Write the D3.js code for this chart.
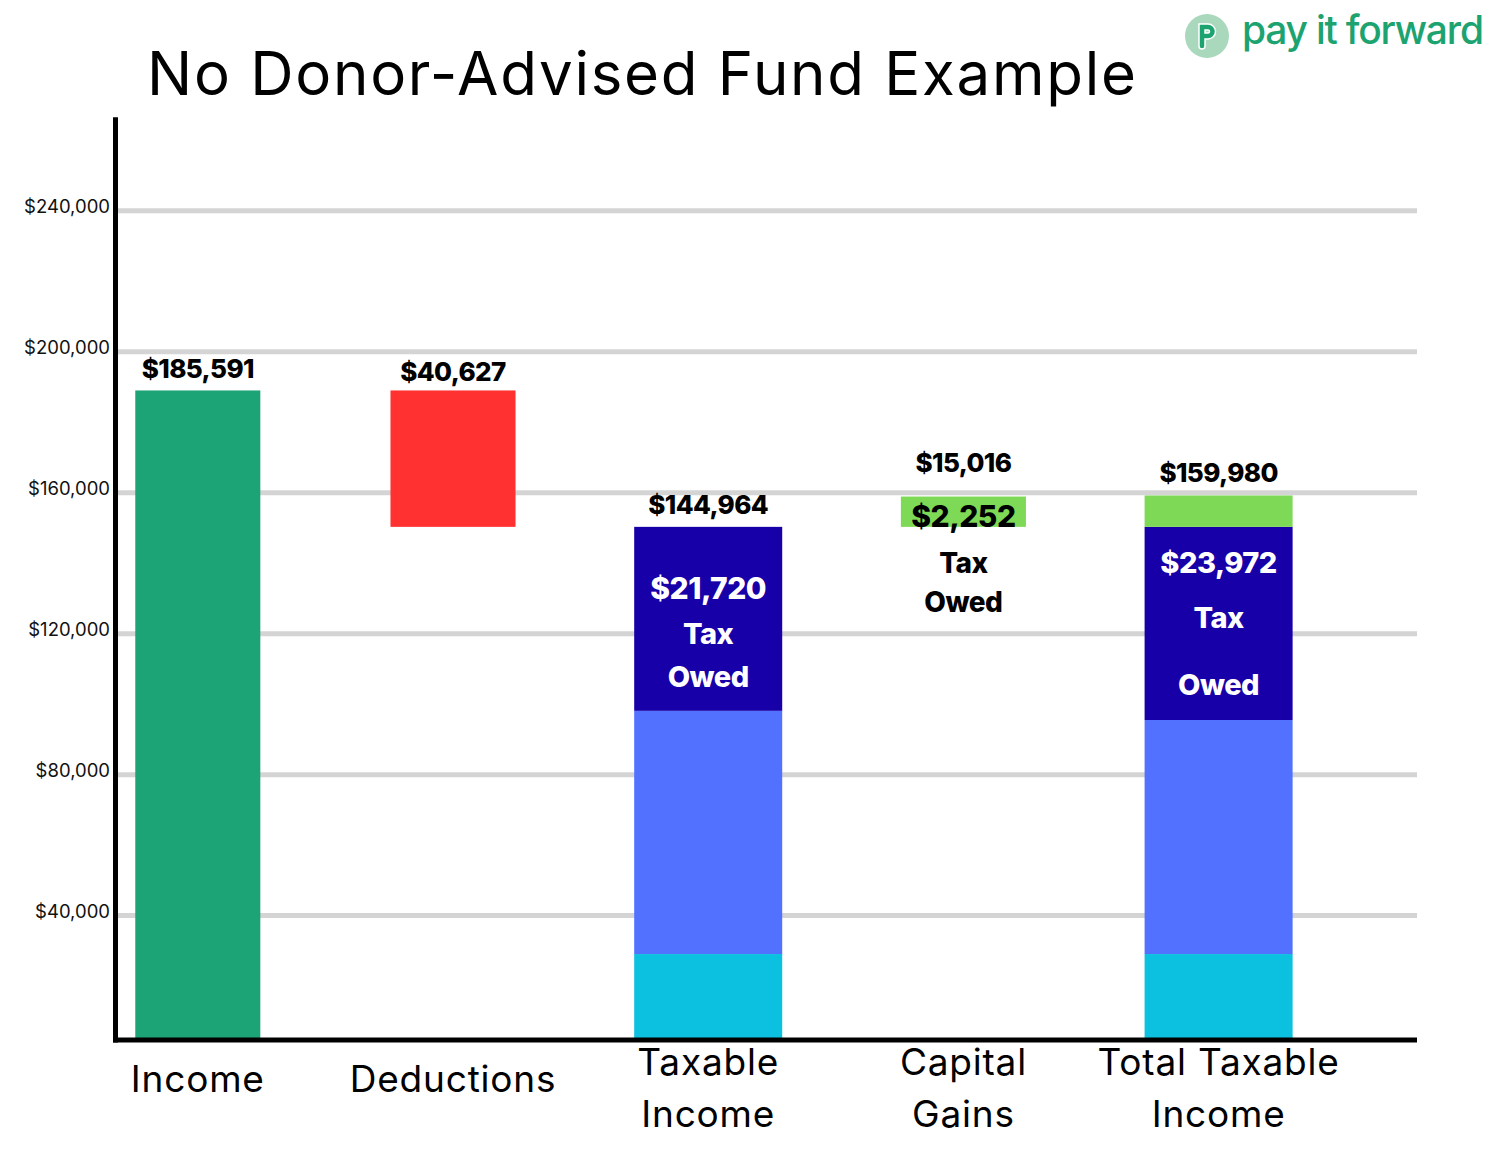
<!DOCTYPE html>
<html>
<head>
<meta charset="utf-8">
<script src="https://cdn.jsdelivr.net/npm/d3@7"></script>
<style>
  html, body { margin: 0; padding: 0; background: #ffffff; }
  svg { display: block; font-family: Inter, "Open Sans", sans-serif; }
</style>
</head>
<body>
<svg id="chart" width="1500" height="1159"></svg>
<script>
// ---------------- data ----------------
const title = "No Donor-Advised Fund Example";
const brandName = "pay it forward";
const categories = ["Income", "Deductions", "Taxable Income", "Capital Gains", "Total Taxable Income"];
const categoryLines = [["Income"], ["Deductions"], ["Taxable", "Income"], ["Capital", "Gains"], ["Total Taxable", "Income"]];
const tickValues = [40000, 80000, 120000, 160000, 200000, 240000];
const tickLabels = ["$40,000", "$80,000", "$120,000", "$160,000", "$200,000", "$240,000"];
const axisFloor = 4700;      // value at which the category axis sits
const axisTop = 266500;      // value at top of the value axis line

// bar segments: category, from, to, kind
const segCategory = ["Income", "Deductions", "Taxable Income", "Taxable Income", "Taxable Income", "Capital Gains", "Total Taxable Income", "Total Taxable Income", "Total Taxable Income", "Total Taxable Income"];
const segFrom     = [4700,   150300, 4700,  29100, 98100,  150300, 4700,  29100, 95500,  150300];
const segTo       = [189000, 189000, 29100, 98100, 150300, 158900, 29100, 95500, 150300, 159200];
const segKind     = ["income", "deduction", "base", "middle", "taxOwed", "gains", "base", "middle", "taxOwed", "gains"];

const topLabels = ["$185,591", "$40,627", "$144,964", "$15,016", "$159,980"];
const taxOwedAmounts = [null, null, "$21,720", "$2,252", "$23,972"];

// ---------------- styles ----------------
const kindColor = {
  income: "#1ca376", deduction: "#ff3131", base: "#0cc0df",
  middle: "#5271ff", taxOwed: "#1800a8", gains: "#7ed957"
};
const stackedCats = new Set(["Taxable Income", "Total Taxable Income"]);
const topGap = [12, 9, 13, 25, 13];
// inner label offsets (px below top of tax-owed area) for [amount, "Tax", "Owed"]
const innerOffsets = [null, null, [72, 117, 160], [0, 46, 85], [46, 101, 168]];
const innerColor = [null, null, "#ffffff", "#000000", "#ffffff"];
const innerSize = [null, null, [30, 29, 29], [30, 28, 28], [29, 29, 29]];

const svg = d3.select("#chart");

// ---------------- scales ----------------
const y = d3.scaleLinear().domain([0, 240000]).range([1056.6, 210.7]);
const x = d3.scaleBand().domain(categories).range([70.2, 1346.2]).paddingInner(0.5).paddingOuter(0.25);
const xCenter = c => x(c) + x.bandwidth() / 2;
const barW = c => stackedCats.has(c) ? x.bandwidth() * 1.16 : x.bandwidth() * 0.98;

const axisX = 115.5, gridRight = 1417;

// ---------------- gridlines ----------------
svg.append("g").selectAll("line").data(tickValues).join("line")
  .attr("x1", axisX + 2).attr("x2", gridRight)
  .attr("y1", d => y(d)).attr("y2", d => y(d))
  .attr("stroke", "#d4d4d4").attr("stroke-width", 5);

// ---------------- bars ----------------
const segIdx = d3.range(segCategory.length);
svg.append("g").selectAll("rect").data(segIdx).join("rect")
  .attr("x", i => xCenter(segCategory[i]) - barW(segCategory[i]) / 2)
  .attr("width", i => barW(segCategory[i]))
  .attr("y", i => y(segTo[i]))
  .attr("height", i => y(segFrom[i]) - y(segTo[i]))
  .attr("fill", i => kindColor[segKind[i]]);

// ---------------- value axis ----------------
const yAxis = d3.axisLeft(y).tickValues(tickValues)
  .tickFormat((d, i) => tickLabels[i]).tickSize(0).tickPadding(4);
const gy = svg.append("g").attr("transform", `translate(${axisX - 1.5},0)`).call(yAxis);
gy.select(".domain").remove();
gy.selectAll("text").attr("font-size", 18.5).attr("fill", "#111").attr("dy", "0.12em")
  .attr("font-family", "Inter, sans-serif");

svg.append("line").attr("x1", axisX).attr("x2", axisX)
  .attr("y1", y(axisTop)).attr("y2", y(axisFloor) + 2.5)
  .attr("stroke", "#000").attr("stroke-width", 5);
svg.append("line").attr("x1", axisX - 2.5).attr("x2", gridRight)
  .attr("y1", y(axisFloor)).attr("y2", y(axisFloor))
  .attr("stroke", "#000").attr("stroke-width", 5);

// ---------------- top value labels ----------------
const catTop = categories.map(c => d3.max(segIdx.filter(i => segCategory[i] === c), i => segTo[i]));
svg.append("g").selectAll("text").data(categories).join("text")
  .attr("x", c => xCenter(c))
  .attr("y", (c, i) => y(catTop[i]) - topGap[i])
  .attr("text-anchor", "middle")
  .attr("font-size", 26).attr("font-weight", 800).attr("letter-spacing", -0.6)
  .attr("fill", "#000")
  .text((c, i) => topLabels[i]);

// ---------------- tax owed labels ----------------
categories.forEach((c, i) => {
  if (!taxOwedAmounts[i]) return;
  const top = y(150300);
  const lines = [taxOwedAmounts[i], "Tax", "Owed"];
  lines.forEach((t, k) => {
    svg.append("text")
      .attr("x", xCenter(c)).attr("y", top + innerOffsets[i][k])
      .attr("text-anchor", "middle")
      .attr("font-size", innerSize[i][k]).attr("font-weight", 800).attr("letter-spacing", -0.5)
      .attr("fill", innerColor[i])
      .text(t);
  });
});

// ---------------- category labels ----------------
const catG = svg.append("g");
categories.forEach((c, i) => {
  const lines = categoryLines[i];
  const t = catG.append("text").attr("text-anchor", "middle")
    .attr("font-size", 37).attr("font-weight", 400).attr("fill", "#000")
    .attr("letter-spacing", 0.8);
  if (lines.length === 1) {
    t.append("tspan").attr("x", xCenter(c)).attr("y", 1092).text(lines[0]);
  } else {
    lines.forEach((l, k) => t.append("tspan").attr("x", xCenter(c)).attr("y", 1075 + k * 52).text(l));
  }
});

// ---------------- title ----------------
svg.append("text").attr("x", 147).attr("y", 95)
  .attr("font-size", 60).attr("font-weight", 400).attr("fill", "#000")
  .attr("textLength", 989).attr("lengthAdjust", "spacing")
  .text(title);

// ---------------- brand ----------------
const brand = svg.append("g").attr("transform", "translate(1207,36)");
brand.append("circle").attr("r", 22).attr("fill", "#a9d8bc");
brand.append("path")
  .attr("d", "M-8,-12 h9 a7.5,7.5 0 0 1 0,15 h-3 v7 a3,3 0 0 1 -6,0 z M-2,-6 v3 h3 a1.5,1.5 0 0 0 0,-3 z")
  .attr("fill", "#1ca370").attr("fill-rule", "evenodd")
  .attr("stroke", "#ffffff").attr("stroke-width", 1.5);
svg.append("text").attr("x", 1242).attr("y", 44)
  .attr("font-size", 39).attr("font-weight", 500).attr("fill", "#1ca370")
  .attr("textLength", 242).attr("lengthAdjust", "spacing")
  .text(brandName);
</script>
</body>
</html>
